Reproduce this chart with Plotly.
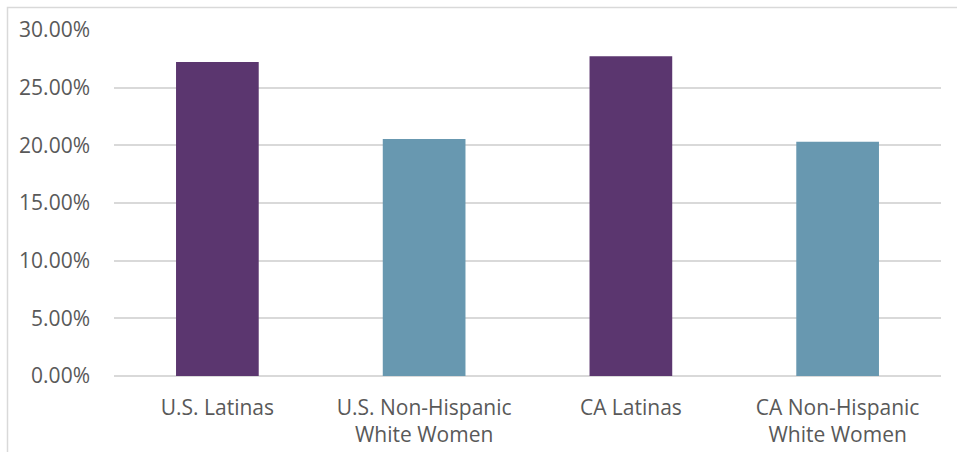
import plotly.graph_objects as go

categories = ["U.S. Latinas", "U.S. Non-Hispanic<br>White Women", "CA Latinas", "CA Non-Hispanic<br>White Women"]
values = [0.2723, 0.2055, 0.2772, 0.2030]
bar_colors = ["#5B366F", "#6898B0", "#5B366F", "#6898B0"]
y_ticks = [0, 0.05, 0.10, 0.15, 0.20, 0.25, 0.30]
y_tick_labels = ["0.00%", "5.00%", "10.00%", "15.00%", "20.00%", "25.00%", "30.00%"]

fig = go.Figure(go.Bar(x=categories, y=values, marker=dict(color=bar_colors, line=dict(width=0)), width=0.4))

W, H = 957, 452
L, R, T, B = 114, 16, 30, 76
pw, ph = W - L - R, H - T - B

fig.update_layout(
    width=W, height=H,
    margin=dict(l=L, r=R, t=T, b=B, pad=0, autoexpand=False),
    paper_bgcolor="white", plot_bgcolor="white",
    font=dict(family="Open Sans", size=21, color="#595959"),
    showlegend=False,
    bargap=0.6,
    xaxis=dict(showgrid=False, showline=False, zeroline=False, ticks="", tickfont=dict(size=21),
               ticklabelstandoff=17, automargin=False),
    yaxis=dict(range=[0, 0.30], tickvals=y_ticks, ticktext=y_tick_labels, showgrid=True,
               gridcolor="#D9D9D9", gridwidth=1.5, zeroline=True, zerolinecolor="#D9D9D9", zerolinewidth=1.5,
               showline=False, ticks="", tickfont=dict(size=21), ticklabelstandoff=23, automargin=False),
    shapes=[dict(type="rect", xref="paper", yref="paper",
                 x0=(7.5 - L) / pw, x1=(W + 10 - L) / pw, y0=-0.5, y1=(H - B - 7.5) / ph,
                 line=dict(color="#D9D9D9", width=1.5), fillcolor="rgba(0,0,0,0)", layer="below")],
)

fig.write_html("out.html", config={"displayModeBar": False},
               post_script="document.body.style.margin='0';document.body.style.overflow='hidden';")
